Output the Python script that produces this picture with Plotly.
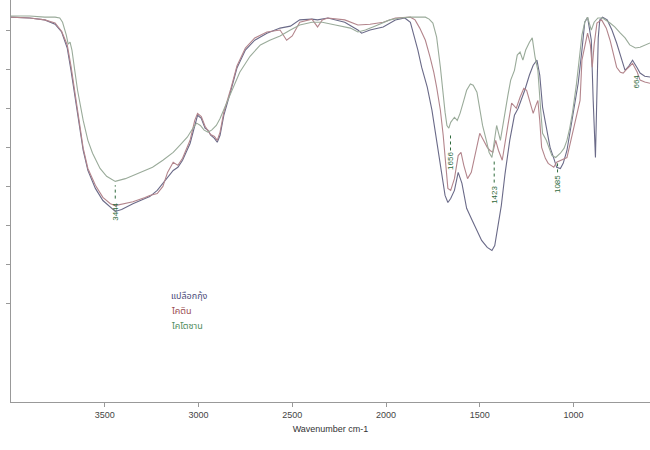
import plotly.graph_objects as go

# ---- data ----
shell_wn = [4000,3900,3820,3765,3730,3700,3680,3660,3635,3615,3590,3550,3510,3470,3444,3410,3350,3285,3260,3220,
            3190,3165,3135,3110,3085,3045,3020,3005,2985,2965,2950,2935,2915,2900,2885,2865,2830,2795,2750,2700,
            2635,2565,2510,2460,2395,2365,2310,2220,2150,2130,2085,2015,1950,1900,1870,1850,1830,1810,1780,1755,
            1730,1705,1685,1670,1655,1635,1615,1595,1570,1540,1515,1490,1460,1435,1420,1405,1385,1365,1340,1315,
            1295,1280,1260,1235,1215,1195,1180,1165,1145,1125,1105,1090,1070,1055,1035,1020,1000,975,955,940,
            925,905,895,883,876,868,860,845,820,795,770,745,725,705,685,660,645,620,592]
shell_t = [93.3,93.1,92.6,91.5,89.5,85.4,79.7,73.3,65.6,59.2,54.1,49.5,46.4,44.6,43.6,44.1,45.6,46.9,47.4,49.0,
           50.8,52.0,54.1,54.9,56.7,61.0,65.6,68.2,67.4,64.9,64.4,63.1,62.3,61.3,63.1,68.2,74.1,80.3,84.9,87.4,
           89.2,90.5,91.0,92.6,92.8,92.6,93.1,92.0,90.0,89.2,90.0,90.8,92.6,93.1,92.0,88.7,84.9,80.5,75.4,69.5,
           61.8,54.1,47.7,45.9,46.9,49.0,53.6,50.8,44.4,41.3,38.7,36.2,34.4,33.6,34.9,39.2,45.1,53.3,61.8,68.2,
           70.0,72.0,74.6,78.5,81.0,82.3,78.5,70.3,64.9,60.0,57.2,54.9,54.6,55.9,59.2,63.6,70.0,76.4,84.9,92.0,
           93.3,87.4,72.0,57.4,72.0,88.0,92.6,93.3,92.6,90.0,86.7,82.8,79.7,80.8,82.3,80.3,79.0,78.2,78.0]

chitin_wn = [4000,3900,3820,3765,3730,3700,3680,3660,3635,3615,3590,3550,3510,3470,3444,3410,3350,3285,3260,3220,
             3190,3165,3135,3110,3085,3045,3020,3005,2985,2965,2950,2935,2915,2900,2885,2865,2830,2795,2750,2700,
             2635,2565,2530,2500,2460,2395,2365,2340,2310,2220,2150,2085,2015,1950,1870,1845,1820,1790,1765,1745,
             1730,1710,1695,1680,1670,1655,1635,1615,1600,1585,1565,1545,1525,1500,1480,1460,1445,1430,1415,1400,
             1380,1365,1350,1330,1305,1285,1265,1250,1230,1215,1200,1190,1180,1170,1150,1135,1120,1105,1090,1070,
             1050,1035,1020,1005,980,965,955,940,925,910,900,890,875,850,825,805,785,770,750,735,
             710,685,660,645,620,592]
chitin_t = [93.3,93.1,92.6,91.8,89.7,86.2,80.8,74.1,66.4,59.8,54.6,50.3,47.2,45.6,45.1,45.4,46.1,47.2,47.7,48.2,
            50.0,53.6,56.2,55.4,57.2,61.8,66.9,68.7,67.9,65.4,64.4,63.3,62.8,61.8,63.9,69.0,74.6,80.8,85.4,88.0,
            89.5,90.0,87.4,88.5,92.0,92.8,90.8,92.6,93.1,92.6,91.3,91.5,92.0,93.1,93.3,92.6,90.5,87.4,83.1,79.2,
            75.4,69.5,63.1,54.1,49.5,49.0,52.0,57.9,58.7,55.4,52.0,53.6,57.9,63.6,61.8,60.0,59.2,58.7,61.8,59.2,
            56.7,61.8,65.6,71.3,70.0,72.8,75.1,74.6,70.8,68.7,70.8,72.0,66.9,60.0,57.2,55.9,55.4,54.9,56.2,56.7,
            57.2,57.4,60.5,63.6,68.2,72.0,82.3,86.2,89.2,86.2,80.5,86.2,91.8,92.6,90.5,87.4,83.6,80.5,79.2,79.0,
            80.3,81.5,79.2,77.2,76.7,76.4]

chitosan_wn = [4000,3900,3820,3765,3740,3725,3705,3695,3685,3675,3660,3645,3615,3590,3565,3525,3490,3444,3390,3350,
               3285,3245,3190,3135,3100,3060,3030,3010,2990,2970,2950,2930,2905,2885,2855,2820,2780,2725,2670,2620,
               2565,2510,2460,2395,2340,2270,2190,2150,2110,2060,1980,1925,1870,1790,1770,1750,1730,1710,1695,1685,
               1675,1665,1655,1635,1620,1605,1585,1570,1550,1535,1515,1500,1485,1465,1450,1435,1420,1410,1390,1380,
               1365,1350,1335,1315,1300,1285,1270,1255,1235,1220,1205,1190,1175,1165,1145,1130,1115,1095,1070,1050,
               1035,1020,1005,985,970,955,940,925,905,890,870,845,805,780,750,725,700,670,645,620,592]
chitosan_t = [93.6,93.6,93.3,93.3,93.1,92.0,88.7,86.4,86.9,84.9,79.7,74.6,66.9,61.8,58.5,54.6,52.6,51.3,52.0,52.8,
              53.9,54.9,56.7,58.7,60.5,62.6,64.9,66.2,65.6,64.4,63.9,64.4,65.6,67.4,70.8,74.6,79.2,83.3,86.2,87.4,
              88.5,90.0,91.3,92.0,92.0,91.3,90.5,89.5,90.0,91.0,92.6,93.1,93.3,93.3,92.8,91.8,88.2,80.5,72.8,69.0,
              65.6,64.9,66.4,67.7,66.9,68.7,72.0,74.6,76.2,75.9,74.1,70.0,65.6,61.8,58.7,57.4,61.8,65.6,61.8,64.9,
              69.5,73.3,77.2,79.7,83.6,84.4,82.3,84.9,86.9,88.0,83.1,79.7,69.5,63.6,61.8,59.8,57.9,57.4,58.5,59.8,
              61.8,64.9,69.0,75.9,82.3,88.7,92.0,93.3,90.0,92.0,93.1,93.1,91.8,90.8,89.2,88.0,86.2,85.4,85.6,86.2,86.7]

series_names = ["แปลือกกุ้ง", "ไคติน", "ไคโตซาน"]
peak_labels = ["3444", "1656", "1423", "1085", "664"]
peak_wn = [3444, 1656, 1423, 1085, 664]
x_ticks = [3500, 3000, 2500, 2000, 1500, 1000]

line_colors = ["#6a6a88", "#b3858c", "#9aab9a"]
text_colors = ["#4a4a78", "#9a4d50", "#4f8c5c"]
label_green = "#2f6a3c"

fig = go.Figure()
for wn, t, name, c in zip([shell_wn, chitin_wn, chitosan_wn], [shell_t, chitin_t, chitosan_t], series_names, line_colors):
    fig.add_trace(go.Scatter(x=wn, y=t, mode="lines", name=name,
                             line=dict(color=c, width=1.1), showlegend=False))

# legend as coloured text
for i, (name, c) in enumerate(zip(series_names, text_colors)):
    fig.add_annotation(x=0.247, y=0.263 - i * 0.037, xref="paper", yref="paper", text=name,
                       showarrow=False, xanchor="left", yanchor="middle",
                       font=dict(size=9, color=c, family="Noto Sans Thai, Loma, Garuda, Tahoma, sans-serif"))

# peak labels (rotated) with short dotted leader lines
label_y = [43.6, 56.4, 47.9, 50.5, 76.7]
lead_top = [50.3, 63.1, 56.7, 55.9, None]
lead_bot = [46.9, 59.2, 51.0, 53.6, None]
for lab, wn, ly, lt, lb in zip(peak_labels, peak_wn, label_y, lead_top, lead_bot):
    fig.add_annotation(x=wn, y=ly, text=lab, textangle=-90, showarrow=False,
                       font=dict(size=8, color=label_green, family="Arial, Liberation Sans, sans-serif"))
    if lt is not None:
        fig.add_shape(type="line", x0=wn, x1=wn, y0=lb, y1=lt, xref="x", yref="y",
                      line=dict(color=label_green, width=1, dash="dot"))

fig.update_layout(
    width=650, height=450,
    margin=dict(l=11, r=0, t=0, b=48),
    paper_bgcolor="white", plot_bgcolor="white",
    font=dict(family="Arial, Liberation Sans, sans-serif", size=9, color="#333"),
)
fig.update_xaxes(range=[4000, 592], tickvals=x_ticks, ticks="outside", ticklen=4, tickcolor="#999",
                 showline=True, linecolor="#999", linewidth=1, showgrid=False, zeroline=False,
                 tickfont=dict(size=9, color="#444"),
                 title=dict(text="Wavenumber cm-1", font=dict(size=9, color="#333"), standoff=6),
                 automargin=False)
fig.update_yaxes(range=[-5.13, 97.69], tickvals=[20, 30, 40, 50, 60, 70, 80, 90], ticks="outside",
                 ticklen=4, tickcolor="#999", showticklabels=False,
                 showline=True, linecolor="#999", linewidth=1, showgrid=False, zeroline=False,
                 automargin=False)

fig.write_html("out.html", config={"displayModeBar": False},
               post_script="document.body.style.margin='0';document.body.style.overflow='hidden';")
